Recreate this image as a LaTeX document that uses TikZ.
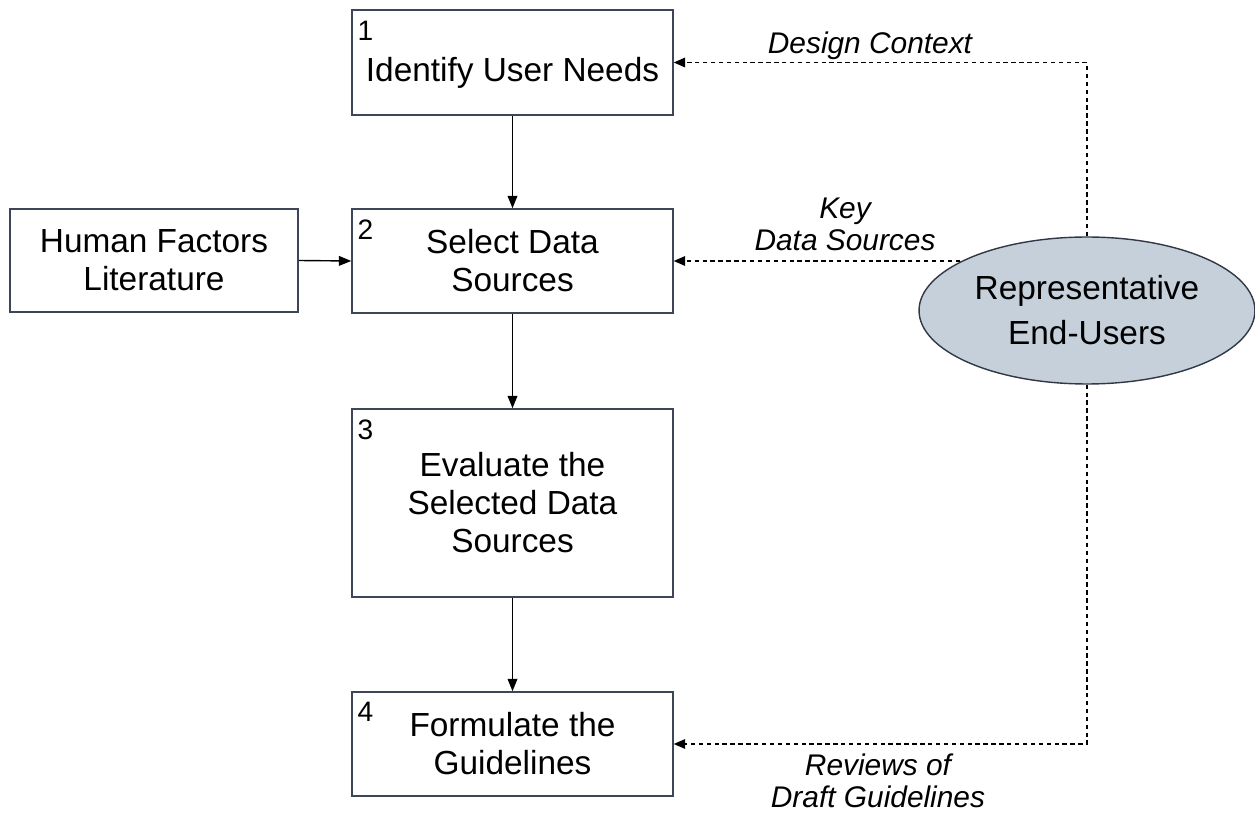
\documentclass[tikz,border=0pt]{standalone}
\usepackage{fontspec}
\setmainfont{Liberation Sans}
\usetikzlibrary{arrows.meta,shapes.geometric,positioning}
\definecolor{boxline}{HTML}{3C4656}
\definecolor{userfill}{HTML}{C6D0DA}

\begin{document}
\begin{tikzpicture}[
    x=0.02cm, y=-0.02cm,
    stepbox/.style={draw=boxline, line width=0.9pt, minimum width=6.42cm, inner sep=0pt,
        align=center, font=\fontsize{19}{21.6}\selectfont},
    stepnum/.style={anchor=north west, inner sep=0pt, font=\fontsize{16}{18}\selectfont},
    flow/.style={line width=0.8pt, -{Triangle[length=7pt,width=5.5pt]}},
    feedback/.style={line width=0.7pt, dash pattern=on 2.5pt off 2pt, -{Triangle[length=6.5pt,width=5.5pt]}},
    fblabel/.style={align=center, font=\fontsize{17}{18.2}\selectfont\itshape},
    ]
    \useasboundingbox (0,0) rectangle (1255,813);

    \node at(512.5,62.5) [stepbox, align=none, minimum height=2.1cm, text height=0.9cm, text depth=0.12cm](need){Identify User Needs};
    \node at(512.5,261) [stepbox, minimum height=2.08cm](select){Select Data\\Sources};
    \node at(512.5,503) [stepbox, minimum height=3.76cm](evaluate){Evaluate the\\Selected Data\\Sources};
    \node at(512.5,744) [stepbox, minimum height=2.08cm](formulate){Formulate the\\Guidelines};

    \node at([xshift=0.12cm, yshift=-0.24cm] need.north west) [stepnum](n1){1};
    \node at([xshift=0.12cm, yshift=-0.22cm] select.north west) [stepnum](n2){2};
    \node at([xshift=0.12cm, yshift=-0.22cm] evaluate.north west) [stepnum](n3){3};
    \node at([xshift=0.12cm, yshift=-0.22cm] formulate.north west) [stepnum](n4){4};

    \node at(154,260.5) [stepbox, minimum width=5.76cm, minimum height=2.06cm](hf){Human Factors\\Literature};

    \node at(1087,310.5) [ellipse, draw=boxline!80!black, line width=0.8pt, fill=userfill,
        minimum width=6.72cm, minimum height=2.94cm, inner sep=0pt, align=center,
        font=\fontsize{19}{25.6}\selectfont](users){Representative\\End-Users};

    \draw[flow] (need.south) -- (select.north);
    \draw[flow] (select.south) -- (evaluate.north);
    \draw[flow] (evaluate.south) -- (formulate.north);
    \draw[flow] (hf.east) -- (select.west);

    \draw[feedback] (users.north) |- (need.east);
    \draw[feedback] (select.east -| users.159) -- (select.east);
    \draw[feedback] (users.south) |- (formulate.east);

    \node at(870,46) [fblabel](design){Design Context};
    \node at(845,224) [fblabel](key){Key\\Data Sources};
    \node at(878,781) [fblabel](reviews){Reviews of\\Draft Guidelines};
\end{tikzpicture}
\end{document}
